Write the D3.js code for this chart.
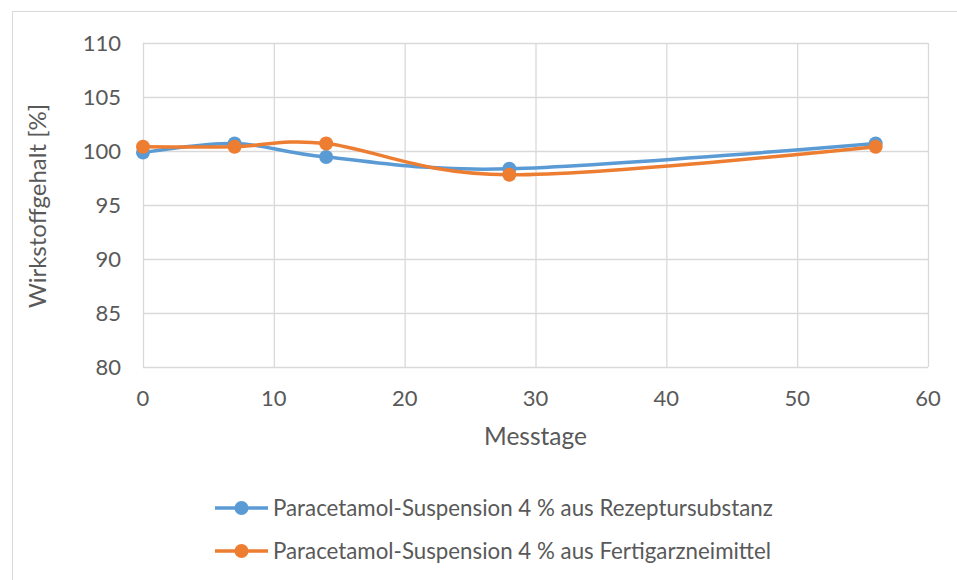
<!DOCTYPE html>
<html>
<head>
<meta charset="utf-8">
<script src="https://cdn.jsdelivr.net/npm/d3@7"></script>
<style>
  body { margin: 0; background: #fff; }
  svg text { font-family: Lato, "Open Sans", sans-serif; fill: #595959; }
</style>
</head>
<body>
<svg id="chart" width="957" height="580"></svg>
<script>
const days = [0, 7, 14, 28, 56];
const rezeptur = [99.85, 100.7, 99.45, 98.35, 100.7];
const fertig = [100.4, 100.4, 100.7, 97.8, 100.4];
const seriesNames = [
  "Paracetamol-Suspension 4 % aus Rezeptursubstanz",
  "Paracetamol-Suspension 4 % aus Fertigarzneimittel"
];
const colors = ["#5b9bd5", "#ed7d31"];
const xTicks = [0, 10, 20, 30, 40, 50, 60];
const yTicks = [80, 85, 90, 95, 100, 105, 110];

const svg = d3.select("#chart");
const plotLeft = 143, plotRight = 928, plotTop = 43, plotBottom = 367;

// chart border
svg.append("rect")
  .attr("x", 12.5).attr("y", 11.5)
  .attr("width", 960).attr("height", 600)
  .attr("fill", "none").attr("stroke", "#d9d9d9");

const x = d3.scaleLinear().domain([0, 60]).range([plotLeft, plotRight]);
const y = d3.scaleLinear().domain([80, 110]).range([plotBottom, plotTop]);

// grid
svg.append("g")
  .attr("transform", `translate(0,${plotBottom})`)
  .call(d3.axisBottom(x).tickValues(xTicks).tickSize(-(plotBottom - plotTop)).tickFormat(""))
  .call(g => g.select(".domain").remove())
  .call(g => g.selectAll("line").attr("stroke", "#d9d9d9").attr("stroke-width", 1.3));
svg.append("g")
  .attr("transform", `translate(${plotLeft},0)`)
  .call(d3.axisLeft(y).tickValues(yTicks).tickSize(-(plotRight - plotLeft)).tickFormat(""))
  .call(g => g.select(".domain").remove())
  .call(g => g.selectAll("line").attr("stroke", "#d9d9d9").attr("stroke-width", 1.3));

// tick labels
svg.append("g").selectAll("text").data(xTicks).join("text")
  .attr("x", d => x(d)).attr("y", plotBottom + 39)
  .attr("text-anchor", "middle").attr("font-size", 22)
  .text(d => d);
svg.append("g").selectAll("text").data(yTicks).join("text")
  .attr("x", plotLeft - 22).attr("y", d => y(d) + 8)
  .attr("text-anchor", "end").attr("font-size", 22)
  .text(d => d);

// axis titles
svg.append("text")
  .attr("x", (plotLeft + plotRight) / 2).attr("y", 445)
  .attr("text-anchor", "middle").attr("font-size", 24.5)
  .text("Messtage");
svg.append("text")
  .attr("transform", `translate(46,206) rotate(-90)`)
  .attr("text-anchor", "middle").attr("font-size", 24)
  .text("Wirkstoffgehalt [%]");

// series
const line = d3.line()
  .x((d, i) => x(days[i]))
  .y(d => y(d))
  .curve(d3.curveCardinal.tension(0));

[rezeptur, fertig].forEach((vals, k) => {
  svg.append("path")
    .attr("d", line(vals))
    .attr("fill", "none")
    .attr("stroke", colors[k])
    .attr("stroke-width", 3.5)
    .attr("stroke-linecap", "round");
  svg.append("g").selectAll("circle").data(vals).join("circle")
    .attr("cx", (d, i) => x(days[i]))
    .attr("cy", d => y(d))
    .attr("r", 7)
    .attr("fill", colors[k]);
});

// legend
seriesNames.forEach((name, k) => {
  const ly = 508 + k * 43;
  const g = svg.append("g");
  g.append("line")
    .attr("x1", 215).attr("x2", 268).attr("y1", ly).attr("y2", ly)
    .attr("stroke", colors[k]).attr("stroke-width", 3.5);
  g.append("circle")
    .attr("cx", 241.5).attr("cy", ly).attr("r", 7).attr("fill", colors[k]);
  g.append("text")
    .attr("x", 273).attr("y", ly + 8)
    .attr("font-size", 22.3)
    .text(name);
});
</script>
</body>
</html>
